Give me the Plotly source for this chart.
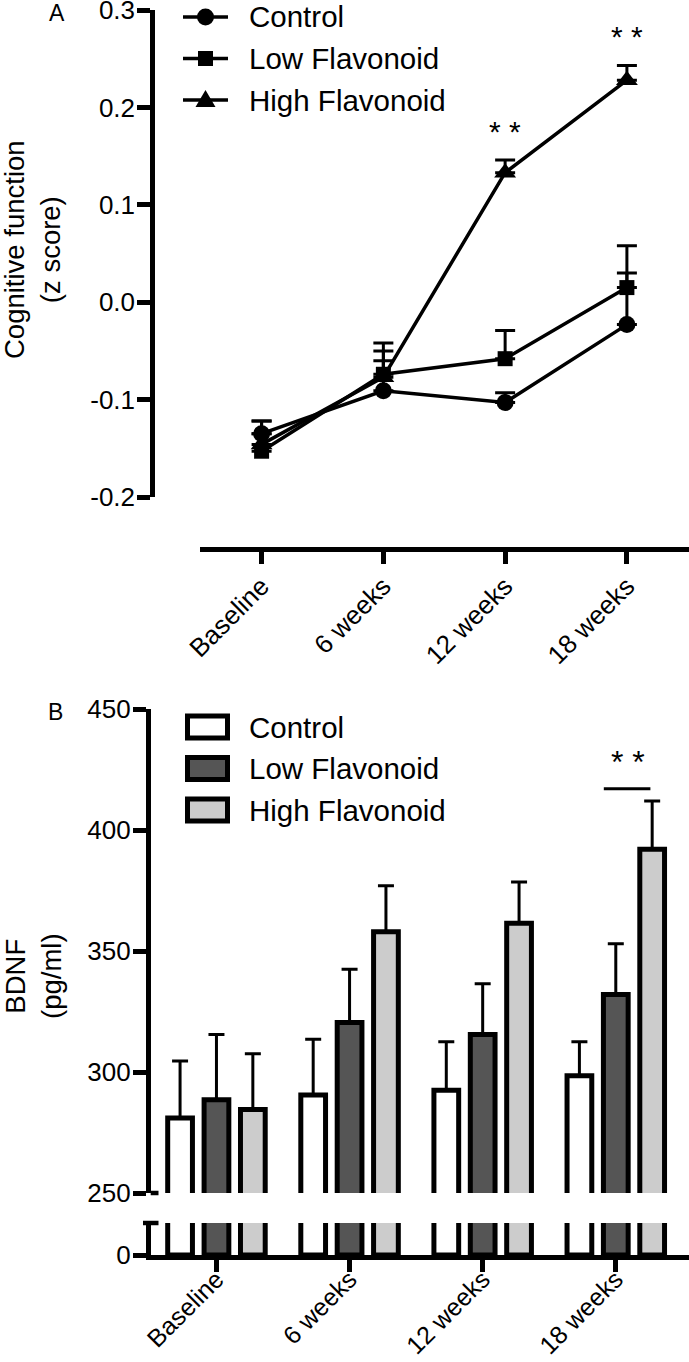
import plotly.graph_objects as go

W, H = 689, 1362

# ---------------- data ----------------
categories = ["Baseline", "6 weeks", "12 weeks", "18 weeks"]
groups = ["Control", "Low Flavonoid", "High Flavonoid"]

# Panel A: cognitive function (z score), mean and upward SE
cog_control = [-0.135, -0.091, -0.103, -0.023]
cog_control_se = [0.013, 0.031, 0.010, 0.053]
cog_low = [-0.153, -0.074, -0.058, 0.015]
cog_low_se = [0.018, 0.032, 0.029, 0.043]
cog_high = [-0.146, -0.077, 0.133, 0.228]
cog_high_se = [0.024, 0.027, 0.013, 0.015]

cog_ticks = [-0.2, -0.1, 0.0, 0.1, 0.2, 0.3]
cog_ticktext = ["-0.2", "-0.1", "0.0", "0.1", "0.2", "0.3"]

# Panel B: BDNF (pg/ml)
bdnf_control = [281, 290.5, 292.5, 298.5]
bdnf_control_se = [23.5, 23, 20, 14]
bdnf_low = [288.5, 320.5, 315.5, 332]
bdnf_low_se = [27, 22, 21, 21]
bdnf_high = [284.5, 358, 361.5, 392]
bdnf_high_se = [23, 19, 17, 20]

bdnf_ticks_upper = [250, 300, 350, 400, 450]
bdnf_ticks_lower = [0]

# significance marks: (category index, y value)
sig_a = [(2, 0.175), (3, 0.273)]
sig_b_y = 428
sig_b_line_y = 417

FONT = "Liberation Sans, Arial, sans-serif"


def px(p):
    return p / W


def py(p):
    return 1 - p / H


fig = go.Figure()

# ---------------- panel A ----------------
symbols = ["circle", "square", "triangle-up"]
msizes = [17, 15, 19]
for name, vals, se, sym, sz in zip(groups, [cog_control, cog_low, cog_high],
                                   [cog_control_se, cog_low_se, cog_high_se],
                                   symbols, msizes):
    fig.add_trace(go.Scatter(
        x=categories, y=vals, name=name, mode="lines+markers",
        line=dict(color="black", width=3.5),
        marker=dict(symbol=sym, size=sz, color="black"),
        error_y=dict(type="data", symmetric=False, array=se,
                     arrayminus=[0] * len(se), color="black",
                     thickness=3, width=10),
        xaxis="x", yaxis="y", showlegend=False,
    ))

# ---------------- panel B ----------------
fills = ["white", "#555555", "#cccccc"]
for name, vals, se, fc in zip(groups, [bdnf_control, bdnf_low, bdnf_high],
                              [bdnf_control_se, bdnf_low_se, bdnf_high_se],
                              fills):
    fig.add_trace(go.Bar(
        x=categories, y=vals, name=name,
        marker=dict(color=fc, line=dict(color="black", width=5)),
        error_y=dict(type="data", symmetric=False, array=se,
                     arrayminus=[0] * len(se), color="black",
                     thickness=3, width=8),
        xaxis="x2", yaxis="y2", showlegend=False,
    ))
    fig.add_trace(go.Bar(
        x=categories, y=vals, name=name,
        marker=dict(color=fc, line=dict(color="black", width=5)),
        xaxis="x3", yaxis="y3", showlegend=False,
    ))

axis_common = dict(showgrid=False, zeroline=False, showline=True,
                   linecolor="black", linewidth=4.5, ticks="outside",
                   tickcolor="black", tickwidth=4.5, automargin=False,
                   ticklabeloverflow="allow",
                   tickfont=dict(family=FONT, size=26, color="black"))

xr_b = [-0.494, 3.55]

fig.update_layout(
    template="none",
    width=W, height=H,
    margin=dict(l=0, r=0, t=0, b=0, pad=0),
    paper_bgcolor="white", plot_bgcolor="white",
    font=dict(family=FONT, color="black"),
    barmode="group", bargap=0.18, bargroupgap=0.32,
    showlegend=False,
    xaxis=dict(axis_common, type="category", domain=[px(199.5), 1],
               range=[-0.51, 3.51], anchor="free", position=py(549),
               ticklen=12, tickangle=-45, ticklabelstandoff=-3),
    yaxis=dict(axis_common, domain=[py(497), py(10)], range=[-0.2, 0.3],
               anchor="free", position=px(152), tickvals=cog_ticks,
               ticktext=cog_ticktext, ticklen=13, ticklabelstandoff=-3),
    xaxis2=dict(type="category", domain=[px(150.7), 1], range=xr_b,
                anchor="y2", visible=False, automargin=False),
    yaxis2=dict(axis_common, domain=[py(1193), py(709)], range=[250, 450],
                anchor="x2", tickvals=bdnf_ticks_upper, ticklen=13,
                ticklabelstandoff=-3),
    xaxis3=dict(axis_common, type="category", domain=[px(150.7), 1],
                range=xr_b, anchor="y3", ticklen=12, tickangle=-45,
                ticklabelstandoff=-17,
                tickfont=dict(family=FONT, size=25, color="black")),
    yaxis3=dict(axis_common, domain=[py(1255), py(1223)], range=[0, 30],
                anchor="x3", tickvals=bdnf_ticks_lower, ticklen=13,
                ticklabelstandoff=-3),
)

annotations = []
shapes = []

# panel labels
annotations.append(dict(text="A", x=px(57), y=py(13), xref="paper", yref="paper",
                        xanchor="center", yanchor="middle",
                        showarrow=False, font=dict(size=23)))
annotations.append(dict(text="B", x=px(55), y=py(712), xref="paper", yref="paper",
                        xanchor="center", yanchor="middle",
                        showarrow=False, font=dict(size=23)))
# axis titles
annotations.append(dict(text="Cognitive function<br>(z score)", x=px(33), y=py(250),
                        xref="paper", yref="paper", showarrow=False, textangle=-90,
                        xanchor="center", yanchor="middle", font=dict(size=27.5)))
annotations.append(dict(text="BDNF<br>(pg/ml)", x=px(33), y=py(976),
                        xref="paper", yref="paper", showarrow=False, textangle=-90,
                        xanchor="center", yanchor="middle", font=dict(size=27.5)))
# significance panel A
for ci, yv in sig_a:
    annotations.append(dict(text="* *", x=ci, y=yv, xref="x", yref="y",
                            showarrow=False, font=dict(size=30)))
# significance panel B
annotations.append(dict(text="* *", x=3.09, y=sig_b_y, xref="x2", yref="y2",
                        showarrow=False, font=dict(size=32)))
shapes.append(dict(type="line", xref="x2", yref="y2", x0=2.91, x1=3.26,
                   y0=sig_b_line_y, y1=sig_b_line_y, line=dict(color="black", width=3)))

# ---- panel A legend (line + marker symbols) ----
rows_a = [17, 58.5, 100]
lx0, lx1, lxc = 183, 228, 205.5
for name, sym, r in zip(groups, symbols, rows_a):
    shapes.append(dict(type="line", xref="paper", yref="paper",
                       x0=px(lx0), x1=px(lx1), y0=py(r), y1=py(r),
                       line=dict(color="black", width=3.5)))
    if sym == "circle":
        shapes.append(dict(type="circle", xref="paper", yref="paper",
                           x0=px(lxc - 8.5), x1=px(lxc + 8.5), y0=py(r + 8.5), y1=py(r - 8.5),
                           fillcolor="black", line=dict(color="black", width=0)))
    elif sym == "square":
        shapes.append(dict(type="rect", xref="paper", yref="paper",
                           x0=px(lxc - 7.5), x1=px(lxc + 7.5), y0=py(r + 7.5), y1=py(r - 7.5),
                           fillcolor="black", line=dict(color="black", width=0)))
    else:
        path = "M {:.5f} {:.5f} L {:.5f} {:.5f} L {:.5f} {:.5f} Z".format(
            px(lxc - 10), py(r + 7), px(lxc + 10), py(r + 7), px(lxc), py(r - 10))
        shapes.append(dict(type="path", xref="paper", yref="paper", path=path,
                           fillcolor="black", line=dict(color="black", width=0)))
    annotations.append(dict(text=name, x=px(247), y=py(r), xref="paper", yref="paper",
                            xanchor="left", yanchor="middle", showarrow=False,
                            font=dict(size=29.5)))

# ---- panel B legend (boxes) ----
rows_b = [727, 768.5, 810]
for name, fc, r in zip(groups, fills, rows_b):
    shapes.append(dict(type="rect", xref="paper", yref="paper",
                       x0=px(187.5), x1=px(227.5), y0=py(r + 11), y1=py(r - 11),
                       fillcolor=fc, line=dict(color="black", width=5)))
    annotations.append(dict(text=name, x=px(247), y=py(r), xref="paper", yref="paper",
                            xanchor="left", yanchor="middle", showarrow=False,
                            font=dict(size=29.5)))

# axis break caps
shapes.append(dict(type="line", xref="paper", yref="y2 domain", x0=px(150.7), x1=px(158.5),
                   y0=0, y1=0, line=dict(color="black", width=4.5)))
shapes.append(dict(type="line", xref="paper", yref="y3 domain", x0=px(143), x1=px(158.5),
                   y0=1, y1=1, line=dict(color="black", width=4.5)))

fig.update_layout(annotations=annotations, shapes=shapes)

fig.write_html("out.html",
               config={"displayModeBar": False},
               post_script="document.body.style.margin='0px';"
                           "document.body.style.overflow='hidden';")
